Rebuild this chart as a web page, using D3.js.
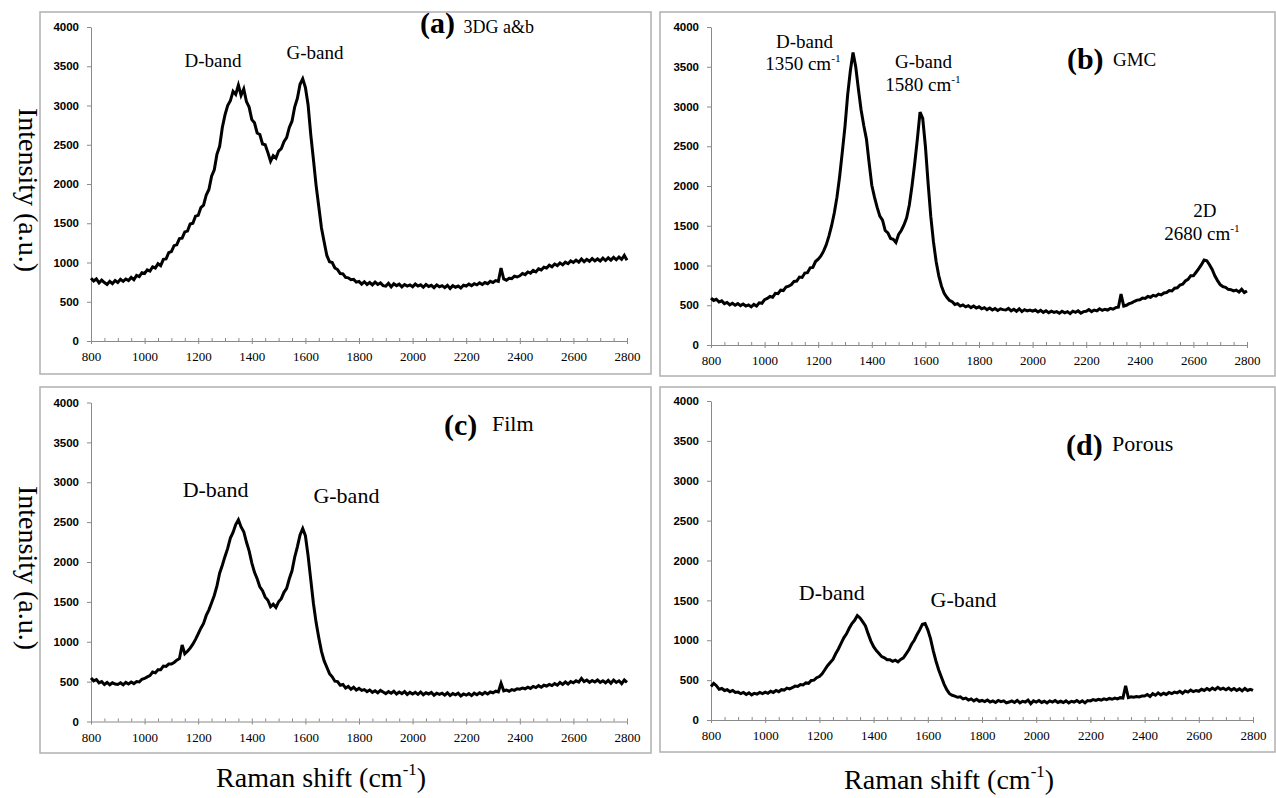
<!DOCTYPE html>
<html>
<head>
<meta charset="utf-8">
<script src="https://cdn.jsdelivr.net/npm/d3@7"></script>
<style>
  body { margin: 0; background: #fff; }
  svg { display: block; }
</style>
</head>
<body>
<svg id="canvas" width="1276" height="798"></svg>
<script>
// ---- data (intensity every 10 cm-1, 800..2800) ----
let ramanShift = d3.range(800, 2801, 10);

let intensity3DG = [
  800, 765, 790, 740, 775, 745, 720, 760, 730, 770,
  745, 785, 760, 790, 770, 810, 780, 835, 820, 870,
  860, 905, 890, 945, 930, 985, 960, 1040, 1045, 1125,
  1140, 1215, 1225, 1305, 1310, 1390, 1400, 1490, 1500, 1590,
  1600, 1700, 1730, 1860, 1930, 2100, 2180, 2380, 2480, 2720,
  2880, 3000, 3060, 3180, 3140, 3260, 3130, 3210, 3050, 2980,
  2820, 2780, 2650, 2630, 2510, 2500, 2400, 2290, 2360, 2330,
  2420, 2450, 2540, 2590, 2720, 2800, 2980, 3090, 3270, 3340,
  3230, 3010, 2630, 2310, 1980, 1710, 1440, 1260, 1090, 1010,
  1000, 930, 910, 860, 855, 810, 805, 780, 785, 750,
  760, 725, 755, 720, 745, 715, 750, 720, 740, 705,
  700, 735, 690, 730, 705, 725, 690, 720, 700, 715,
  690, 725, 700, 715, 685, 720, 695, 710, 680, 715,
  690, 705, 680, 710, 670, 705, 685, 700, 675, 710,
  700, 725, 705, 730, 715, 740, 720, 745, 730, 760,
  745, 770, 760, 930, 790, 775, 800, 795, 825, 815,
  830, 860, 845, 880, 865, 900, 880, 920, 905, 940,
  930, 965, 945, 980, 960, 995, 970, 1005, 985, 1020,
  1000, 1030, 1005, 1045, 1010, 1040, 1015, 1050, 1020, 1045,
  1020, 1055, 1025, 1060, 1030, 1065, 1035, 1070, 1040, 1090,
  1030
];

let intensityGMC = [
  590, 560, 575, 540, 555, 520, 535, 505, 525, 500,
  520, 495, 515, 490, 505, 480, 510, 490, 530, 525,
  570, 585, 610, 600, 650, 645, 690, 685, 730, 740,
  760, 800, 805, 855, 850, 905, 910, 970, 975, 1050,
  1080, 1120, 1180, 1260, 1370, 1500, 1660, 1860, 2120, 2430,
  2750, 3150, 3450, 3680, 3500, 3220, 2960, 2760, 2590, 2290,
  2010, 1860, 1730, 1620, 1570, 1440, 1410, 1340, 1330, 1290,
  1390, 1440, 1510, 1600, 1760, 2000, 2280, 2590, 2930, 2850,
  2500, 2040, 1620, 1300, 1050, 870, 740, 650, 600, 560,
  545, 510, 520, 490, 505, 480, 495, 470, 490, 465,
  480, 455, 470, 445, 465, 440, 460, 435, 455, 445,
  440, 460, 430, 450, 425, 455, 420, 445, 430, 440,
  425, 440, 415, 435, 410, 430, 405, 425, 410, 420,
  400, 425, 405, 420, 395, 425, 410, 430, 400, 420,
  425, 445, 420, 440, 430, 455, 435, 450, 440, 460,
  450, 470, 475, 640, 490, 500, 520, 530, 550, 565,
  570, 590, 585, 610, 600, 625, 615, 640, 630, 655,
  660, 685, 680, 715, 720, 755, 765, 805, 825, 870,
  870, 915, 960, 1010, 1070, 1060, 1010, 950, 870, 810,
  760, 735, 725, 700, 695, 680, 690, 665, 700, 660,
  680
];

let intensityFilm = [
  545, 510, 525, 485, 500, 465, 490, 460, 485, 470,
  465, 485, 460, 490, 470, 495, 475, 500, 495, 530,
  540, 560, 575, 620, 610, 650, 650, 695, 690, 720,
  720, 740, 770, 790, 960, 850, 880, 920, 970, 1030,
  1100, 1170, 1230, 1330, 1400, 1490, 1580, 1700, 1860, 1960,
  2070, 2170, 2300, 2370, 2470, 2530, 2440, 2380, 2250, 2140,
  1990, 1870, 1790, 1690, 1640, 1560, 1520, 1440, 1470, 1430,
  1500, 1540, 1620, 1670, 1790, 1890, 2060, 2190, 2340, 2420,
  2330, 2080, 1780, 1480, 1240, 1050, 880, 760, 680, 600,
  560, 505, 500, 455, 465, 420, 440, 405, 430, 395,
  415, 390, 400, 375, 395, 365, 385, 360, 390, 370,
  350, 375, 355, 380, 345, 370, 350, 375, 340, 365,
  345, 365, 340, 370, 335, 360, 345, 365, 330, 355,
  340, 355, 330, 360, 325, 350, 335, 355, 320, 345,
  330, 350, 325, 355, 335, 360, 340, 365, 345, 370,
  360, 380, 370, 480, 385, 395, 380, 400, 390, 410,
  405, 420, 410, 430, 415, 440, 425, 450, 430, 455,
  445, 465, 450, 475, 455, 490, 465, 495, 470, 500,
  485, 510, 495, 540, 500, 520, 490, 515, 495, 520,
  490, 510, 485, 515, 480, 520, 490, 510, 475, 520,
  490
];

let intensityPorous = [
  420, 460, 430, 385, 395, 370, 380, 355, 370, 345,
  350, 330, 345, 320, 340, 315, 335, 325, 345, 330,
  350, 335, 360, 345, 370, 355, 380, 375, 400, 390,
  405, 425, 420, 445, 440, 465, 460, 495, 500, 530,
  545, 580, 630, 680, 720, 760, 830, 890, 960, 1030,
  1080, 1150, 1210, 1250, 1310, 1280, 1230, 1180, 1080, 990,
  920, 870, 835, 795, 780, 755, 755, 735, 750, 730,
  760, 780, 830, 880, 950, 1000, 1070, 1130, 1200, 1210,
  1130, 1020, 870, 740, 630, 540, 450, 380, 330, 310,
  300, 285, 290, 265, 275, 250, 265, 240, 260, 235,
  245, 230, 250, 225, 240, 220, 245, 230, 240, 215,
  225, 240, 220, 245, 215, 235, 225, 250, 205, 240,
  225, 245, 220, 235, 215, 240, 225, 245, 220, 235,
  220, 240, 215, 235, 225, 245, 220, 240, 215, 245,
  240, 255, 245, 260, 250, 265, 255, 270, 260, 275,
  265, 280, 275, 430, 280, 290, 285, 295, 290, 300,
  300, 320, 295, 330, 310, 340, 315, 335, 320, 345,
  330, 350, 340, 360, 335, 365, 350, 375, 355, 370,
  360, 385, 370, 395, 375, 400, 380, 410, 385, 400,
  380, 400, 375, 395, 370, 390, 365, 395, 370, 385,
  370
];

let xTicks = [800, 1000, 1200, 1400, 1600, 1800, 2000, 2200, 2400, 2600, 2800];
let xMinorTicks = d3.range(800, 2801, 50);
let yTicks = [0, 500, 1000, 1500, 2000, 2500, 3000, 3500, 4000];

// ---- layout ----
let serifFont = "'Liberation Serif', 'Times New Roman', Times, serif";
let sansFont = "'Liberation Sans', Arial, sans-serif";

let canvas = d3.select("#canvas");

let panels = [
  {
    values: intensity3DG,
    box: [40, 12, 651, 374], xRange: [91, 627], yRange: [341, 27],
    labels: [
      { text: "(a)", x: 2028, y: 3924, anchor: "start", size: 30, bold: true },
      { text: "3DG a&b", x: 2190, y: 3924, anchor: "start", size: 18 },
      { text: "D-band", x: 1255, y: 3490, anchor: "middle", size: 19 },
      { text: "G-band", x: 1636, y: 3592, anchor: "middle", size: 19 }
    ]
  },
  {
    values: intensityGMC,
    box: [660, 12, 1275, 376], xRange: [711, 1247], yRange: [345, 27],
    labels: [
      { text: "D-band", x: 1149, y: 3736, anchor: "middle", size: 19 },
      { text: "1350 cm", sup: "-1", x: 1143, y: 3459, anchor: "middle", size: 19 },
      { text: "G-band", x: 1593, y: 3484, anchor: "middle", size: 19 },
      { text: "1580 cm", sup: "-1", x: 1591, y: 3195, anchor: "middle", size: 19 },
      { text: "(b)", x: 2128, y: 3472, anchor: "start", size: 30, bold: true },
      { text: "GMC", x: 2300, y: 3509, anchor: "start", size: 19 },
      { text: "2D", x: 2643, y: 1610, anchor: "middle", size: 19 },
      { text: "2680 cm", sup: "-1", x: 2632, y: 1321, anchor: "middle", size: 19 }
    ]
  },
  {
    values: intensityFilm,
    box: [40, 387, 651, 753], xRange: [91, 627], yRange: [721.5, 402.5],
    labels: [
      { text: "(c)", x: 2117, y: 3592, anchor: "start", size: 30, bold: true },
      { text: "Film", x: 2296, y: 3643, anchor: "start", size: 22 },
      { text: "D-band", x: 1265, y: 2815, anchor: "middle", size: 22 },
      { text: "G-band", x: 1753, y: 2740, anchor: "middle", size: 22 }
    ]
  },
  {
    values: intensityPorous,
    box: [660, 387, 1275, 752], xRange: [711, 1253], yRange: [720, 401],
    labels: [
      { text: "(d)", x: 2110, y: 3323, anchor: "start", size: 30, bold: true },
      { text: "Porous", x: 2280, y: 3373, anchor: "start", size: 22 },
      { text: "D-band", x: 1246, y: 1505, anchor: "middle", size: 22 },
      { text: "G-band", x: 1732, y: 1417, anchor: "middle", size: 22 }
    ]
  }
];

let addLabel = (g, lab, px, py) => {
  let t = g.append("text")
    .attr("x", px)
    .attr("y", py)
    .attr("text-anchor", lab.anchor)
    .style("font-family", serifFont)
    .style("font-size", lab.size + "px")
    .style("font-weight", lab.bold ? "bold" : "normal")
    .attr("fill", "#000");
  t.append("tspan").text(lab.text);
  if (lab.sup) {
    t.append("tspan")
      .attr("dy", -lab.size * 0.42)
      .style("font-size", lab.size * 0.6 + "px")
      .text(lab.sup);
    if (lab.after) {
      t.append("tspan").attr("dy", lab.size * 0.42).text(lab.after);
    }
  }
  return t;
};

panels.forEach((p) => {
  let xScale = d3.scaleLinear().domain([800, 2800]).range(p.xRange);
  let yScale = d3.scaleLinear().domain([0, 4000]).range(p.yRange);

  // frame around each panel
  canvas.append("rect")
    .attr("x", p.box[0]).attr("y", p.box[1])
    .attr("width", p.box[2] - p.box[0]).attr("height", p.box[3] - p.box[1])
    .attr("fill", "none").attr("stroke", "#b0b0b0").attr("stroke-width", 1.5);

  // y axis
  let yAxis = canvas.append("g")
    .attr("transform", "translate(" + p.xRange[0] + ",0)")
    .call(d3.axisLeft(yScale).tickValues(yTicks).tickFormat(d3.format("d"))
      .tickSize(4).tickSizeOuter(0).tickPadding(8));
  yAxis.selectAll("text")
    .style("font-family", sansFont)
    .style("font-weight", "bold")
    .style("font-size", "11.5px")
    .attr("fill", "#000");

  // x axis: minor ticks point up, major ticks cross the line
  let xMinor = canvas.append("g")
    .attr("transform", "translate(0," + p.yRange[0] + ")")
    .call(d3.axisBottom(xScale).tickValues(xMinorTicks).tickSize(-3).tickFormat(""));
  xMinor.select(".domain").remove();

  let xAxis = canvas.append("g")
    .attr("transform", "translate(0," + p.yRange[0] + ")")
    .call(d3.axisBottom(xScale).tickValues(xTicks).tickFormat(d3.format("d"))
      .tickSize(3).tickSizeOuter(0).tickPadding(8));
  xAxis.selectAll("text")
    .style("font-family", serifFont)
    .style("font-size", "13px")
    .attr("fill", "#000");

  [yAxis, xAxis, xMinor].forEach((ax) => {
    ax.selectAll("path, line").attr("stroke", "#8a8a8a");
  });

  // spectrum
  let line = d3.line()
    .x((d, i) => xScale(ramanShift[i]))
    .y((d) => yScale(d));

  canvas.append("path")
    .datum(p.values)
    .attr("d", line)
    .attr("fill", "none")
    .attr("stroke", "#000")
    .attr("stroke-width", 3)
    .attr("stroke-linejoin", "miter");

  let lg = canvas.append("g");
  p.labels.forEach((lab) => addLabel(lg, lab, xScale(lab.x), yScale(lab.y)));
});

// axis titles
let yTitles = [190, 568];
yTitles.forEach((cy) => {
  canvas.append("text")
    .attr("transform", "translate(19," + cy + ") rotate(90)")
    .attr("text-anchor", "middle")
    .style("font-family", serifFont)
    .style("font-size", "28px")
    .attr("fill", "#000")
    .text("Intensity (a.u.)");
});

let xTitles = [[321, 787], [949, 789]];
xTitles.forEach((pos) => {
  addLabel(canvas, { text: "Raman shift (cm", sup: "-1", after: ")", anchor: "middle", size: 28 }, pos[0], pos[1]);
});
</script>
</body>
</html>
